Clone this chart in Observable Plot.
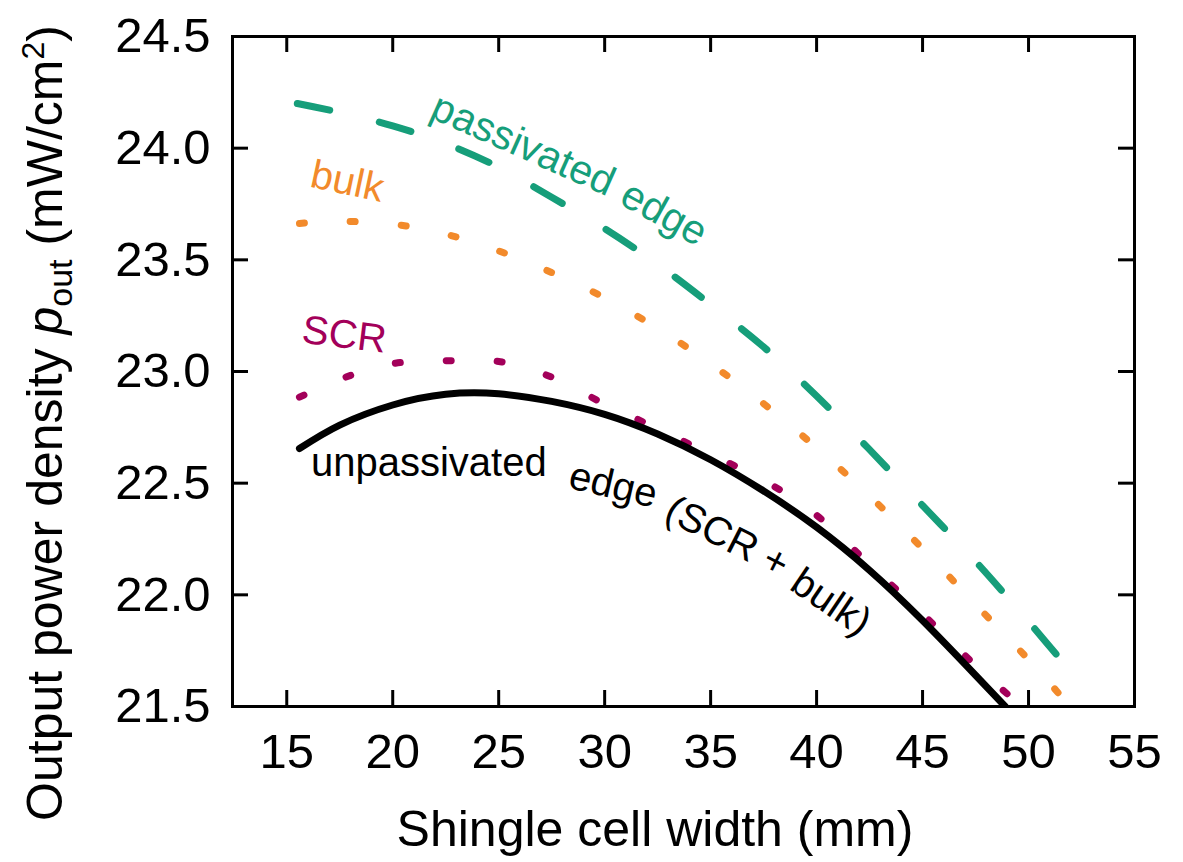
<!DOCTYPE html>
<html>
<head>
<meta charset="utf-8">
<script src="https://cdn.jsdelivr.net/npm/d3@7"></script>
<script src="https://cdn.jsdelivr.net/npm/@observablehq/plot@0.6"></script>
<style>
  html, body { margin: 0; padding: 0; background: #fff; }
  #chart { width: 1183px; height: 862px; }
</style>
</head>
<body>
<div id="chart"></div>
<script>
// ---- data ----
const xTicks = [15, 20, 25, 30, 35, 40, 45, 50, 55];
const yTicks = [21.5, 22.0, 22.5, 23.0, 23.5, 24.0, 24.5];

const passX = [15.5, 17.5, 20, 22.5, 25, 27.5, 30, 32.5, 35, 37.5, 40, 42.5, 45, 47.5, 50, 52];
const passY = [24.20, 24.16, 24.10, 24.02, 23.915, 23.78, 23.64, 23.48, 23.30, 23.11, 22.89, 22.65, 22.40, 22.15, 21.88, 21.655];

const bulkX = [15.6, 17.5, 20, 22.5, 25, 27.5, 30, 32.5, 35, 37.5, 40, 42.5, 45, 47.5, 50, 51.5];
const bulkY = [23.663, 23.672, 23.66, 23.615, 23.54, 23.443, 23.33, 23.193, 23.035, 22.856, 22.658, 22.443, 22.207, 21.957, 21.71, 21.55];

const scrX = [15.6, 17.5, 20, 22.5, 25, 27.5, 30, 32.5, 35, 37.5, 40, 42.5, 45, 47.5, 49];
const scrY = [22.885, 22.965, 23.035, 23.048, 23.045, 22.975, 22.854, 22.744, 22.628, 22.513, 22.356, 22.135, 21.914, 21.684, 21.556];

const unpX = [15.6, 17.5, 20, 22.5, 25, 27.5, 30, 32.5, 35, 37.5, 40, 42.5, 45, 47.5, 48.9];
const unpY = [22.655, 22.76, 22.85, 22.898, 22.90, 22.866, 22.808, 22.72, 22.605, 22.465, 22.303, 22.11, 21.885, 21.64, 21.50];

// annotation labels
const labelText   = ["passivated", "edge", "bulk", "SCR", "unpassivated", "edge", "(SCR +", "bulk)"];
const labelX      = [21.68, 30.62, 16.04, 15.66, 16.14, 28.22, 32.73, 38.65];
const labelY      = [24.14, 23.755, 23.828, 23.13, 22.534, 22.48, 22.342, 22.028];
const labelRotate = [24, 29, 12, 7, 0, 13, 27, 34];
const labelSize   = [41, 41, 40, 40, 40, 40, 40, 40];
const labelSeries = ["pass", "pass", "bulk", "scr", "unp", "unp", "unp", "unp"];

const colors = {pass: "#169e7a", bulk: "#f28a2b", scr: "#a3005a", unp: "#000000"};

const toRows = (xs, ys) => xs.map((x, i) => ({x, y: ys[i]}));
const labels = labelText.map((t, i) => ({t, x: labelX[i], y: labelY[i], r: labelRotate[i], f: labelSize[i], s: labelSeries[i]}));

const W = 1183, H = 862;
const mL = 232, mR = 49, mT = 36, mB = 156;
const fw = W - mL - mR, fh = H - mT - mB;
const tickLen = 16;

const plot = Plot.plot({
  width: W, height: H,
  marginLeft: mL, marginRight: mR, marginTop: mT, marginBottom: mB,
  style: {fontFamily: "'Liberation Sans', Arial, sans-serif", background: "#fff", color: "#000"},
  x: {domain: [12.44, 55]},
  y: {domain: [21.5, 24.5]},
  marks: [
    // inward ticks on all four sides
    Plot.tickX(xTicks, {x: d => d, insetTop: fh - tickLen, stroke: "#000", strokeWidth: 3}),
    Plot.tickX(xTicks, {x: d => d, insetBottom: fh - tickLen, stroke: "#000", strokeWidth: 3}),
    Plot.tickY(yTicks, {y: d => d, insetRight: fw - tickLen, stroke: "#000", strokeWidth: 3}),
    Plot.tickY(yTicks, {y: d => d, insetLeft: fw - tickLen, stroke: "#000", strokeWidth: 3}),
    Plot.axisX(xTicks, {tickSize: 0, tickPadding: 27, fontSize: 49, label: null, fill: "#000"}),
    Plot.axisY(yTicks, {tickSize: 0, tickPadding: 22, fontSize: 49, label: null, fill: "#000", tickFormat: d3.format(".1f")}),
    // curves
    Plot.line(toRows(passX, passY), {x: "x", y: "y", stroke: colors.pass, strokeWidth: 7, strokeDasharray: "33,51", strokeLinecap: "round", curve: "catmull-rom", clip: true}),
    Plot.line(toRows(bulkX, bulkY), {x: "x", y: "y", stroke: colors.bulk, strokeWidth: 7, strokeDasharray: "5,46", strokeLinecap: "round", curve: "catmull-rom", clip: true}),
    Plot.line(toRows(scrX, scrY), {x: "x", y: "y", stroke: colors.scr, strokeWidth: 7, strokeDasharray: "5,46", strokeLinecap: "round", curve: "catmull-rom", clip: true}),
    Plot.line(toRows(unpX, unpY), {x: "x", y: "y", stroke: colors.unp, strokeWidth: 7, curve: "natural", clip: true}),
    // annotations
    Plot.text(labels, {x: "x", y: "y", text: "t", rotate: "r", fontSize: "f", fill: d => colors[d.s], textAnchor: "start", lineAnchor: "bottom"}),
    Plot.frame({stroke: "#000", strokeWidth: 3})
  ]
});

const svg = d3.select(plot);
// x-axis title
svg.append("text")
  .attr("x", 655).attr("y", 846)
  .attr("text-anchor", "middle")
  .attr("font-size", 50)
  .attr("fill", "#000")
  .text("Shingle cell width (mm)");
// y-axis title with italic p and subscript/superscript
const yt = svg.append("text")
  .attr("transform", "translate(62,423) rotate(-90)")
  .attr("text-anchor", "middle")
  .attr("font-size", 50)
  .attr("fill", "#000");
yt.append("tspan").text("Output power density ");
yt.append("tspan").attr("font-style", "italic").text("p");
yt.append("tspan").attr("font-size", 34).attr("dy", 10).text("out");
yt.append("tspan").attr("dy", -10).text(" (mW/cm");
yt.append("tspan").attr("font-size", 32).attr("dy", -18).text("2");
yt.append("tspan").attr("dy", 18).text(")");

document.getElementById("chart").appendChild(plot);
</script>
</body>
</html>
